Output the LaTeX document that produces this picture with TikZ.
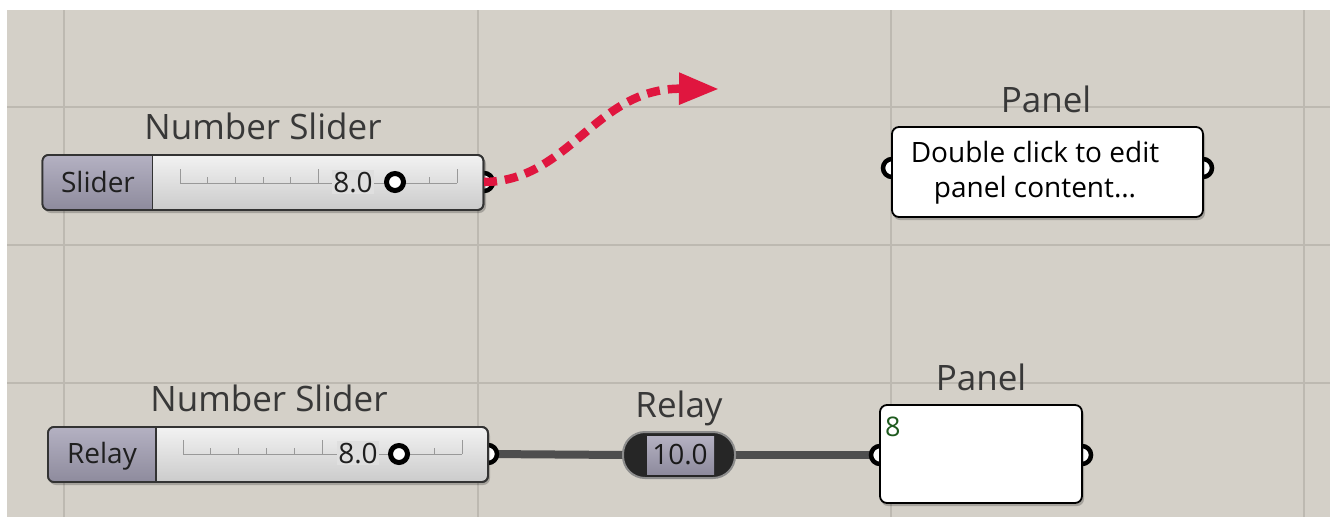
\documentclass[tikz,border=0pt]{standalone}
\usepackage{fontspec}
\setmainfont{Open Sans}
\usetikzlibrary{arrows.meta}
\definecolor{bg}{HTML}{D4D0C8}
\definecolor{gridc}{HTML}{BDB9B1}
\definecolor{lblTop}{HTML}{B4B1C2}
\definecolor{lblBot}{HTML}{8E8B9D}
\definecolor{slTop}{HTML}{F2F2F2}
\definecolor{slBot}{HTML}{CBCBCB}
\definecolor{slMid}{HTML}{DFDFDF}
\definecolor{arrowred}{HTML}{E0163F}
\definecolor{wirec}{HTML}{4E4E4E}
\definecolor{dgreen}{HTML}{1E5A1E}
\definecolor{capsule}{HTML}{262626}
\newcommand\fsz[1]{\fontsize{#1}{#1}\selectfont}
\begin{document}
\begin{tikzpicture}[x=1pt,y=-1pt,
  title/.style={font=\fsz{35}, text=black!78, anchor=base, inner sep=0pt},
  body/.style={font=\fsz{28}, text=black!88, anchor=base, inner sep=0pt},
  sliderbox/.style={draw=black!80, line width=1.8pt, rounded corners=6pt, top color=slTop, bottom color=slBot, inner sep=0pt, outer sep=0pt},
  sliderborder/.style={draw=black!80, line width=1.8pt, rounded corners=6pt},
  port/.style={circle, draw=black, line width=4.5pt, fill=white, minimum size=18pt, inner sep=0pt},
  knob/.style={circle, draw=black, line width=5pt, fill=white, minimum size=17pt, inner sep=0pt},
  panelbox/.style={draw=black, line width=1.8pt, rounded corners=7pt, fill=white, inner sep=0pt, outer sep=0pt},
  shadowbox/.style={fill=black, opacity=.22, rounded corners=7pt},
  tick/.style={draw=black!40, line width=1pt},
  wire/.style={draw=wirec, line width=8pt},
  valtext/.style={font=\fsz{28}, text=black!88, fill=slMid, inner sep=1.5pt, anchor=base}
]
\useasboundingbox (0,0) rectangle (1330,517);
% canvas
\fill[white] (0,0) rectangle (1330,517);
\fill[bg] (7,10) rectangle (1330,517);
\foreach \gx in {64,478,891,1304} \draw[gridc, line width=2pt] (\gx,10) -- (\gx,517);
\foreach \gy in {107,245,383} \draw[gridc, line width=2pt] (7,\gy) -- (1330,\gy);

% ---------- top slider ----------
\node[title] (t1) at (263,139) {Number Slider};
\node[port] (p1) at (484,182) {};
\fill[shadowbox] (44,157) rectangle (486,213);
\node[sliderbox, minimum width=441pt, minimum height=55pt] (s1) at (263,182.5) {};
\begin{scope}
  \clip (s1.north west) rectangle ([xshift=110pt]s1.south west);
  \shade[top color=lblTop, bottom color=lblBot, rounded corners=6pt] (s1.north west) rectangle (s1.south east);
\end{scope}
\draw[black!80, line width=1.8pt] ([xshift=110pt]s1.north west) -- ([xshift=110pt]s1.south west);
\draw[sliderborder] (s1.north west) rectangle (s1.south east);
\node[body] (l1) at (98,192) {Slider};
\draw[tick] (180,183) -- (457,183);
\foreach \i in {0,...,10} {
  \pgfmathsetmacro\tx{180+\i*27.7}
  \ifnum\i=0 \draw[tick] (\tx,183) -- (\tx,169);
  \else\ifnum\i=5 \draw[tick] (\tx,183) -- (\tx,169);
  \else\ifnum\i=10 \draw[tick] (\tx,183) -- (\tx,169);
  \else \draw[tick] (\tx,183) -- (\tx,177);
  \fi\fi\fi
}
\node[valtext] (v1) at (353,192) {8.0};
\node[knob] (k1) at (395,182) {};

% arrow out of the top slider
\coordinate (a1) at (719,89);
\draw[arrowred, line width=8.5pt, dash pattern=on 13pt off 8pt, -{Triangle[length=40pt,width=30pt]}]
  (p1.center) .. controls (570,181) and (595,88) .. (a1);

% ---------- top panel ----------
\node[title] (t2) at (1046,112) {Panel};
\node[port] (pi1) at (892,168) {};
\node[port] (po1) at (1203,168) {};
\fill[shadowbox] (893,130) rectangle (1205,220);
\node[panelbox, minimum width=311pt, minimum height=90pt] (pan1) at (1047.5,172) {};
\node[body, text=black] (x1) at (1035,162) {Double click to edit};
\node[body, text=black] (x2) at (1035,197) {panel content\dots};

% ---------- bottom slider ----------
\node[title] (t3) at (269,411) {Number Slider};
\node[title] (t4) at (679,417) {Relay};
\node[title] (t5) at (981,390) {Panel};
\node[port] (po2) at (1082,455) {};
\coordinate (rl) at (624,455);
\coordinate (rr) at (734,455);
\coordinate (w1) at (488,454);
\coordinate (w2) at (880,455);
\draw[wire] (w1) -- (rl);
\draw[wire] (rr) -- (w2);
\node[port] (p2) at (488,454) {};
\node[port] (pi2) at (880,455) {};
\fill[shadowbox] (49,429) rectangle (490,485);
\node[sliderbox, minimum width=440pt, minimum height=55pt] (s2) at (268,454.5) {};
\begin{scope}
  \clip (s2.north west) rectangle ([xshift=108pt]s2.south west);
  \shade[top color=lblTop, bottom color=lblBot, rounded corners=6pt] (s2.north west) rectangle (s2.south east);
\end{scope}
\draw[black!80, line width=1.8pt] ([xshift=108pt]s2.north west) -- ([xshift=108pt]s2.south west);
\draw[sliderborder] (s2.north west) rectangle (s2.south east);
\node[body] (l2) at (102,463) {Relay};
\draw[tick] (183,454) -- (462,454);
\foreach \i in {0,...,10} {
  \pgfmathsetmacro\tx{183+\i*27.9}
  \ifnum\i=0 \draw[tick] (\tx,454) -- (\tx,440);
  \else\ifnum\i=5 \draw[tick] (\tx,454) -- (\tx,440);
  \else\ifnum\i=10 \draw[tick] (\tx,454) -- (\tx,440);
  \else \draw[tick] (\tx,454) -- (\tx,448);
  \fi\fi\fi
}
\node[valtext] (v2) at (358,463) {8.0};
\node[knob] (k2) at (399,454) {};

% ---------- relay ----------
\node[draw=black!45, line width=2pt, fill=capsule, rounded corners=22pt, minimum width=112pt, minimum height=46pt, inner sep=0pt] (r) at (679,455) {};
\shade[top color=lblTop, bottom color=lblBot] (647,436) rectangle (714,474);
\node[body, text=black!90] (rv) at (680,464) {10.0};

% ---------- bottom panel ----------
\fill[shadowbox] (881,408) rectangle (1084,506);
\node[panelbox, minimum width=202pt, minimum height=98pt] (pan2) at (981,454) {};
\node[font=\fsz{27}, text=dgreen, anchor=base west, inner sep=0pt] (x3) at (885,436) {8};
\end{tikzpicture}
\end{document}
